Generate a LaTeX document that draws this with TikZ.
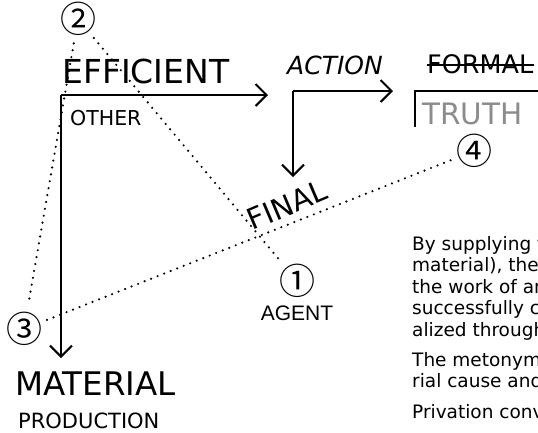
\documentclass[tikz,border=0pt]{standalone}
\usepackage{fontspec}
\setmainfont{DejaVu Sans}
\newfontfamily\agentfont{Liberation Sans}
\newfontfamily\circfont{Noto Sans CJK JP}
\usetikzlibrary{arrows.meta}
\tikzset{
  lbl/.style={inner sep=0pt, anchor=base west},
  circnum/.style={shape=circle, inner sep=0pt, minimum size=33pt, font=\circfont\fontsize{36}{36}\selectfont},
  arr/.style={line width=2pt, -{Straight Barb[length=11pt,width=22pt,line width=2pt]}},
  dots/.style={line width=2.4pt, line cap=round, dash pattern=on 0pt off 7pt},
  para/.style={inner sep=0pt, anchor=base west, font=\fontsize{18.5}{20}\selectfont},
}
\begin{document}
\begin{tikzpicture}[x=1pt,y=-1pt]
\useasboundingbox (0,0) rectangle (538,432);
\begin{scope}
\clip (0,0) rectangle (538,432);
% circled numbers
\node[circnum] (n2) at (78,19) {②};
\node[circnum] (n1) at (297,281) {①};
\node[circnum] (n3) at (24,329) {③};
\node[circnum] (n4) at (474,151) {④};
% labels
\node[lbl, font=\fontsize{33}{33}\selectfont] (eff) at (62,83) {EFFICIENT};
\node[lbl, font=\fontsize{20.5}{20}\selectfont] (oth) at (70,125) {OTHER};
\node[lbl, font=\fontsize{25}{25}\selectfont\itshape] (act) at (287,74) {ACTION};
\node[lbl, font=\fontsize{25.5}{25}\selectfont] (frm) at (427,73) {FORMAL};
\node[lbl, font=\fontsize{29.5}{29}\selectfont, text={rgb,255:red,140;green,140;blue,140}] (tru) at (422,124) {TRUTH};
\node[lbl, font=\fontsize{32.5}{32}\selectfont] (mat) at (15,395) {MATERIAL};
\node[lbl, font=\fontsize{21}{21}\selectfont] (pro) at (18,428) {PRODUCTION};
\node[inner sep=0pt, font=\agentfont\fontsize{21}{21}\selectfont] (agt) at (297,313) {AGENT};
\node[inner sep=0pt, rotate=23, font=\fontsize{29}{29}\selectfont] (fin) at (287,205) {FINAL};
% strike through FORMAL
\draw[line width=1.6pt] (frm.west |- 0,65) -- (frm.east |- 0,65);
% L arrows
\coordinate (c1) at (61,95);
\coordinate (e1) at (268,95);
\coordinate (s1) at (61,358);
\draw[arr] (c1) -- (e1);
\draw[arr] (c1) -- (s1);
\coordinate (c2) at (293,91);
\coordinate (e2) at (393,91);
\coordinate (s2) at (293,177);
\draw[arr] (c2) -- (e2);
\draw[arr] (c2) -- (s2);
% bracket
\coordinate (b0) at (415,127);
\coordinate (b1) at (415,91);
\coordinate (b2) at (545,91);
\draw[line width=2pt] (b0) -- (b1) -- (b2);
% dotted lines
\draw[dots] (n2) -- (n1);
\draw[dots] (n2) -- (n3);
\draw[dots] (n3) -- (n4);
% paragraph
\node[para] (p1) at (412,250) {By supplying the};
\node[para] (p2) at (412,271.5) {material), they};
\node[para] (p3) at (412,293) {the work of an};
\node[para] (p4) at (412,314.5) {successfully com};
\node[para] (p5) at (412,336) {alized through};
\node[para] (p6) at (412,366) {The metonymy};
\node[para] (p7) at (412,387.5) {rial cause and};
\node[para] (p8) at (412,418) {Privation conve};
\end{scope}
\end{tikzpicture}
\end{document}
